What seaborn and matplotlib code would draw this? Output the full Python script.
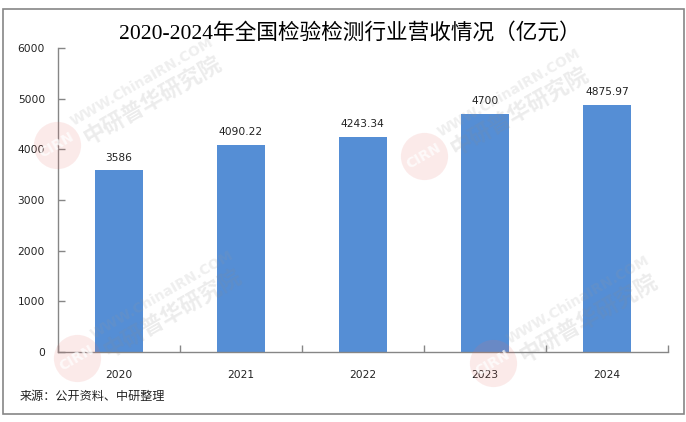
import matplotlib
matplotlib.use('agg')
import matplotlib.pyplot as plt
from matplotlib.patches import Rectangle
import pandas as pd
import seaborn as sns

years = ['2020', '2021', '2022', '2023', '2024']
revenue = [3586, 4090.22, 4243.34, 4700, 4875.97]
value_labels = ['3586', '4090.22', '4243.34', '4700', '4875.97']
y_ticks = [0, 1000, 2000, 3000, 4000, 5000, 6000]

W, H = 686, 422
GREY = '#868686'
TEXT = '#222222'

sns.set_theme(style='white')
plt.rcParams['font.family'] = ['DejaVu Sans', 'Noto Sans CJK SC']

fig = plt.figure(figsize=(W / 100, H / 100), dpi=100)
ax = fig.add_axes([57.5 / W, 1 - 352 / H, 610.5 / W, 304 / H])

df = pd.DataFrame({'year': years, 'revenue': revenue})
sns.barplot(data=df, x='year', y='revenue', color='#558ed5', saturation=1, width=0.393,
            linewidth=0, ax=ax)

ax.set_xlim(-0.5, 4.5)
ax.set_ylim(0, 6000)
ax.set_xlabel('')
ax.set_ylabel('')
ax.set_yticks(y_ticks)
ax.set_xticks([i + 0.5 for i in range(-1, 5)], minor=True)
ax.tick_params(axis='x', which='major', length=0, labelsize=7.7, labelcolor=TEXT, pad=13)
ax.tick_params(axis='x', which='minor', bottom=True, direction='in', length=5, width=1, color=GREY)
ax.tick_params(axis='y', left=True, direction='in', length=5, width=1, color=GREY,
               labelsize=7.7, labelcolor=TEXT, pad=9)
sns.despine(ax=ax)
for side in ['left', 'bottom']:
    ax.spines[side].set_color(GREY)
    ax.spines[side].set_linewidth(1)

for i, v in enumerate(revenue):
    ax.annotate(value_labels[i], (i, v), xytext=(0, 5.5), textcoords='offset points',
                ha='center', va='bottom', fontsize=7.7, color=TEXT)


def fx(px):
    return px / W


def fy(py):
    return 1 - py / H


# chart frame
fig.add_artist(Rectangle((fx(3.5), fy(414)), 680 / W, 405 / H, transform=fig.transFigure,
                         fill=False, edgecolor=GREY, linewidth=1.2))

fig.text(fx(350), fy(33), '2020-2024年全国检验检测行业营收情况（亿元）', ha='center', va='center',
         fontsize=15.6, color='black', family=['Liberation Serif', 'Noto Sans CJK SC'])
fig.text(fx(20), fy(396), '来源：公开资料、中研整理', ha='left', va='center', fontsize=8.7,
         color=TEXT, family=['Noto Sans CJK SC', 'DejaVu Sans'])

# watermarks
for cx, cy in [(57, 145), (424, 156), (77, 358), (493, 363)]:
    fig.add_artist(plt.Line2D([fx(cx)], [fy(cy)], marker='o', markersize=34, transform=fig.transFigure,
                              color='#e8706a', alpha=0.14, markeredgewidth=0))
    fig.text(fx(cx), fy(cy), 'CIRN', rotation=30, ha='center', va='center', fontsize=10, weight='bold',
             color='white', alpha=0.75)
    fig.text(fx(cx + 85), fy(cy - 63), 'WWW.ChinaIRN.COM', rotation=30, ha='center', va='center',
             rotation_mode='anchor', fontsize=10, weight='bold', color='#9a9a9a', alpha=0.16)
    fig.text(fx(cx + 95), fy(cy - 45), '中研普华研究院', rotation=30, ha='center', va='center',
             rotation_mode='anchor', fontsize=16, weight='bold', color='#8a8a8a', alpha=0.16,
             family=['Noto Sans CJK SC', 'DejaVu Sans'])

fig.savefig('out.png', dpi=100)
